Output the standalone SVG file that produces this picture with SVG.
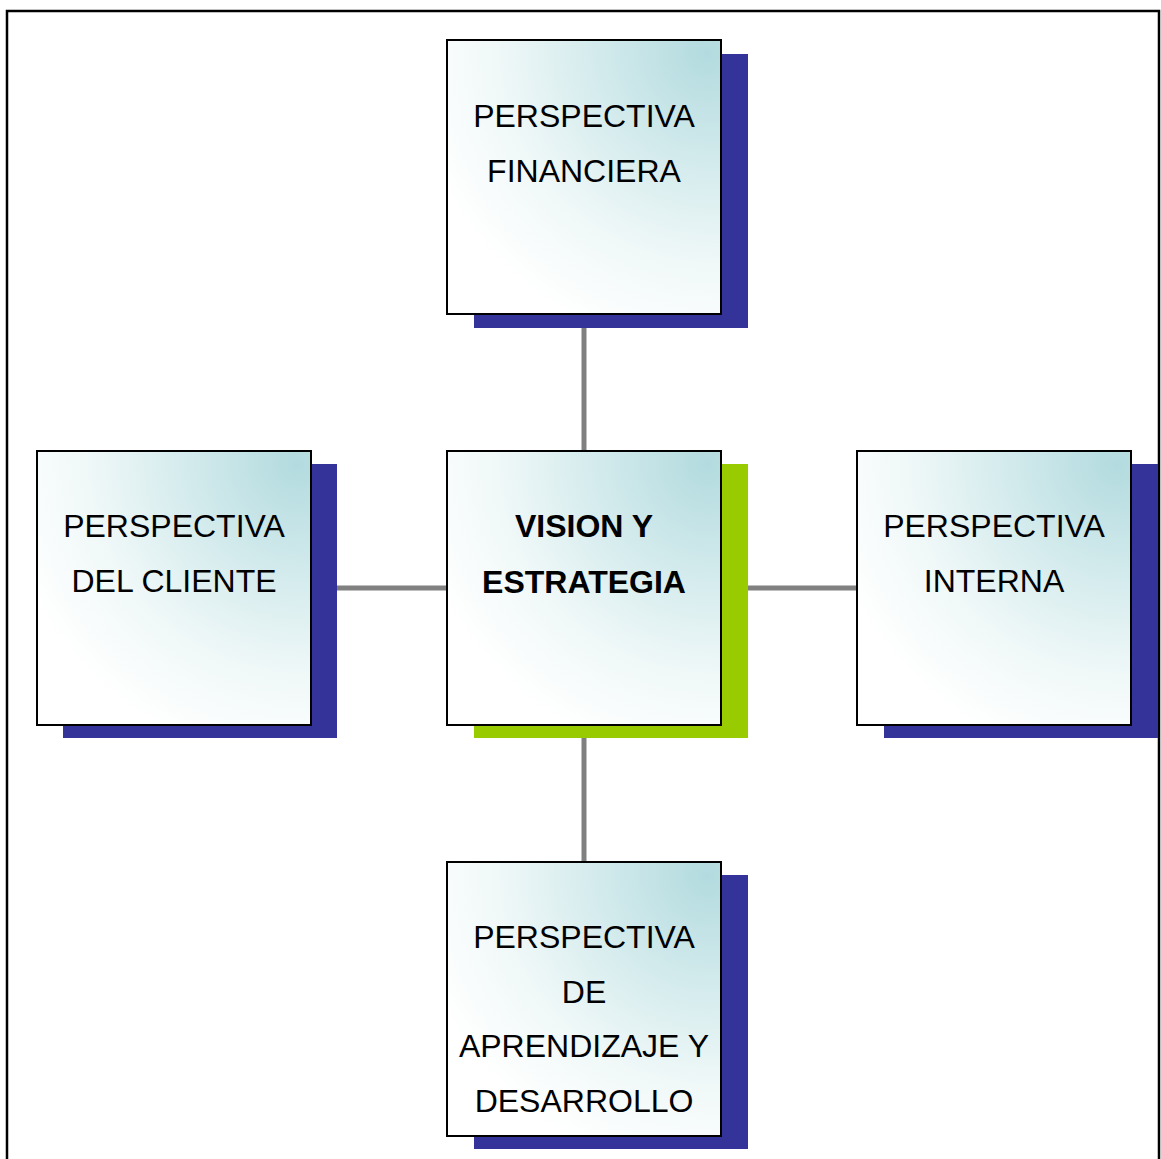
<svg xmlns="http://www.w3.org/2000/svg" width="1161" height="1159" viewBox="0 0 1161 1159">
  <style>
    .frame { fill: none; stroke: #000; stroke-width: 2.5; }
    .shadow { fill: #333399; }
    .shadow-green { fill: #99cc00; }
    .box { fill: url(#boxFill); stroke: #000; stroke-width: 2; }
    .link { stroke: #808080; stroke-width: 5; fill: none; }
    .label { font-family: "Liberation Sans", Arial, sans-serif; font-size: 32px; fill: #000; text-anchor: middle; }
    .bold { font-weight: bold; }
  </style>
  <defs>
    <radialGradient id="boxFill" cx="1" cy="0" r="1.15" fx="0.95" fy="0.05">
      <stop offset="0" stop-color="#b3dbdf"/>
      <stop offset="0.35" stop-color="#d2eaec"/>
      <stop offset="0.7" stop-color="#f0f8f8"/>
      <stop offset="1" stop-color="#ffffff"/>
    </radialGradient>
  </defs>

  <rect width="1161" height="1159" fill="#fff"/>
  <path class="frame" d="M7,1159 V11 H1159 V1159"/>

  <g id="connectors">
    <line class="link" x1="584" y1="327" x2="584" y2="451"/>
    <line class="link" x1="584" y1="738" x2="584" y2="862"/>
    <line class="link" x1="337" y1="588" x2="447" y2="588"/>
    <line class="link" x1="748" y1="588" x2="857" y2="588"/>
  </g>

  <g id="financiera">
    <rect class="shadow" x="474" y="54" width="274" height="274"/>
    <rect class="box" x="447" y="40" width="274" height="274"/>
    <text class="label" x="584" y="127">PERSPECTIVA</text>
    <text class="label" x="584" y="182">FINANCIERA</text>
  </g>

  <g id="cliente">
    <rect class="shadow" x="63" y="464" width="274" height="274"/>
    <rect class="box" x="37" y="451" width="274" height="274"/>
    <text class="label" x="174" y="537">PERSPECTIVA</text>
    <text class="label" x="174" y="592">DEL CLIENTE</text>
  </g>

  <g id="vision">
    <rect class="shadow-green" x="474" y="464" width="274" height="274"/>
    <rect class="box" x="447" y="451" width="274" height="274"/>
    <text class="label bold" x="584" y="537">VISION Y</text>
    <text class="label bold" x="584" y="593">ESTRATEGIA</text>
  </g>

  <g id="interna">
    <rect class="shadow" x="884" y="464" width="274" height="274"/>
    <rect class="box" x="857" y="451" width="274" height="274"/>
    <text class="label" x="994" y="537">PERSPECTIVA</text>
    <text class="label" x="994" y="592">INTERNA</text>
  </g>

  <g id="aprendizaje">
    <rect class="shadow" x="474" y="875" width="274" height="274"/>
    <rect class="box" x="447" y="862" width="274" height="274"/>
    <text class="label" x="584" y="948">PERSPECTIVA</text>
    <text class="label" x="584" y="1003">DE</text>
    <text class="label" x="584" y="1057">APRENDIZAJE Y</text>
    <text class="label" x="584" y="1112">DESARROLLO</text>
  </g>
</svg>
